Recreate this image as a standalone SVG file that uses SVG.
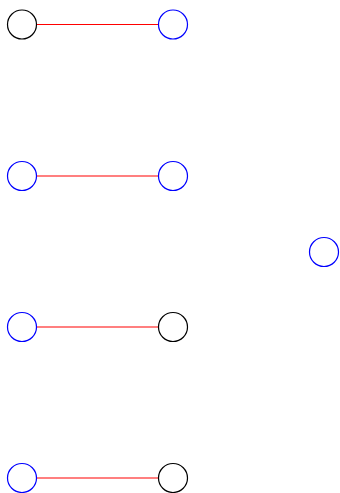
<svg xmlns="http://www.w3.org/2000/svg" width="340" height="493" viewBox="0 0 340 493">
<style>
.n{fill:#fff;stroke-width:1.2}
.k{stroke:#000}
.b{stroke:#00f}
.e{stroke:#f00;stroke-width:1.2}
</style>
<rect width="340" height="493" fill="#fff"/>
<g id="edges">
<line class="e" x1="37" y1="24.5" x2="158" y2="24.5"/>
<line class="e" x1="37" y1="176" x2="158" y2="176"/>
<line class="e" x1="37" y1="327" x2="158" y2="327"/>
<line class="e" x1="37" y1="478" x2="158" y2="478"/>
</g>
<g id="n1"><circle class="n k" cx="22" cy="24.5" r="14.5"/></g>
<g id="n2"><circle class="n b" cx="173" cy="24.5" r="14.5"/></g>
<g id="n3"><circle class="n b" cx="22" cy="176" r="14.5"/></g>
<g id="n4"><circle class="n b" cx="173" cy="176" r="14.5"/></g>
<g id="n5"><circle class="n b" cx="324" cy="252" r="14.5"/></g>
<g id="n6"><circle class="n b" cx="22" cy="327" r="14.5"/></g>
<g id="n7"><circle class="n k" cx="173" cy="327" r="14.5"/></g>
<g id="n8"><circle class="n b" cx="22" cy="478" r="14.5"/></g>
<g id="n9"><circle class="n k" cx="173" cy="478" r="14.5"/></g>
</svg>
